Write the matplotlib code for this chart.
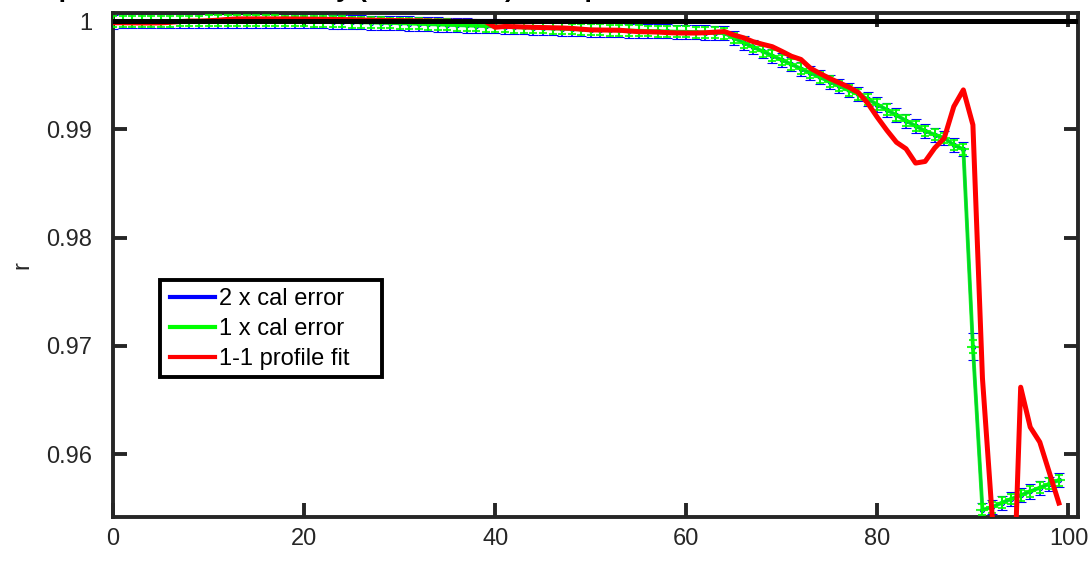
import matplotlib
matplotlib.use("Agg")
import matplotlib.pyplot as plt
from matplotlib.lines import Line2D
from matplotlib.patches import Rectangle

plt.rcParams['font.family'] = ['Liberation Sans', 'DejaVu Sans']

# ---------------- data ----------------
x_vals = list(range(100))

r_1x_cal = [
    0.99995, 0.99996, 0.99997, 0.99997, 0.99998, 0.99998, 0.99999, 1.00000, 1.00000, 1.00001,
    1.00002, 1.00002, 1.00003, 1.00003, 1.00003, 1.00003, 1.00002, 1.00002, 1.00001, 1.00000,
    1.00000, 0.99998, 0.99996, 0.99994, 0.99992, 0.99990, 0.99988, 0.99986, 0.99984, 0.99982,
    0.99980, 0.99977, 0.99974, 0.99971, 0.99968, 0.99965, 0.99962, 0.99959, 0.99956, 0.99953,
    0.99950, 0.99947, 0.99944, 0.99941, 0.99938, 0.99935, 0.99932, 0.99929, 0.99926, 0.99923,
    0.99920, 0.99918, 0.99916, 0.99914, 0.99912, 0.99910, 0.99908, 0.99906, 0.99904, 0.99902,
    0.99900, 0.99897, 0.99894, 0.99891, 0.99888, 0.99843, 0.99800, 0.99760, 0.99720, 0.99680,
    0.99640, 0.99600, 0.99560, 0.99520, 0.99480, 0.99440, 0.99400, 0.99360, 0.99325, 0.99278,
    0.99229, 0.99180, 0.99130, 0.99080, 0.99030, 0.98985, 0.98950, 0.98920, 0.98855, 0.98815,
    0.96990, 0.95485, 0.95510, 0.95550, 0.95585, 0.95620, 0.95655, 0.95690, 0.95725, 0.95760,
]
r_2x_cal = list(r_1x_cal)

# error-bar half widths
err_1x = [0.0005] * 90 + [0.0006] + [0.0005] * 9
err_2x = [0.00065] * 90 + [0.00125] + [0.00065] * 9

r_profile_fit = [
    0.99985, 0.99984, 0.99983, 0.99982, 0.99982, 0.99983, 0.99988, 0.99995, 1.00000, 1.00000,
    1.00003, 1.00008, 1.00015, 1.00020, 1.00020, 1.00020, 1.00020, 1.00020, 1.00020, 1.00019,
    1.00018, 1.00017, 1.00016, 1.00015, 1.00014, 1.00012, 1.00010, 1.00008, 1.00007, 1.00005,
    1.00004, 1.00003, 1.00002, 1.00000, 0.99999, 0.99998, 0.99997, 0.99997, 0.99996, 0.99994,
    0.99942, 0.99950, 0.99948, 0.99945, 0.99942, 0.99940, 0.99938, 0.99936, 0.99932, 0.99925,
    0.99918, 0.99917, 0.99916, 0.99915, 0.99908, 0.99902, 0.99900, 0.99898, 0.99893, 0.99890,
    0.99889, 0.99889, 0.99892, 0.99897, 0.99903, 0.99870, 0.99845, 0.99809, 0.99785, 0.99763,
    0.99720, 0.99675, 0.99645, 0.99564, 0.99515, 0.99470, 0.99430, 0.99390, 0.99340, 0.99240,
    0.99110, 0.98990, 0.98880, 0.98820, 0.98688, 0.98703, 0.98827, 0.98919, 0.99210, 0.99364,
    0.99041, 0.96700, 0.95450, 0.94500, 0.94000, 0.96618, 0.96249, 0.96111, 0.95830, 0.95548,
]

reference_r = 1.0

x_ticks = [0, 20, 40, 60, 80, 100]
y_ticks = [0.96, 0.97, 0.98, 0.99, 1.0]
y_tick_labels = ['0.96', '0.97', '0.98', '0.99', '1']
legend_labels = ['2 x cal error', '1 x cal error', '1-1 profile fit']
title_text = ('Cross-potential correlation by (all stations) multiplicative '
              'correction of the absolute cal ratios')

# ---------------- figure ----------------
fig = plt.figure(figsize=(10.89, 5.61), dpi=100)
ax = fig.add_axes([0.1038, 0.0784, 0.8861, 0.8984])

blue = (0, 0, 1)
green = (0, 1, 0)
red = (1, 0, 0)
dark = '#262626'

ax.errorbar(x_vals, r_2x_cal, yerr=err_2x, color=blue, lw=2.0,
            elinewidth=1.2, capsize=3.5, capthick=1.2, marker='o', ms=3,
            mfc='none', mec=blue, mew=0.8, zorder=2)
ax.errorbar(x_vals, r_1x_cal, yerr=err_1x, color=green, lw=2.8,
            elinewidth=1.4, capsize=3, capthick=1.2, marker='+', ms=9, mew=1.5,
            alpha=0.85, zorder=3)
ax.plot(x_vals, r_profile_fit, color=red, lw=3.6, zorder=4)
ax.axhline(reference_r, color='k', lw=3.6, zorder=5)

ax.set_xlim(0, 101)
ax.set_ylim(0.95419, 1.00074)
ax.set_xticks(x_ticks)
ax.set_yticks(y_ticks)
ax.set_yticklabels(y_tick_labels)

for s in ax.spines.values():
    s.set_linewidth(2.8)
    s.set_color(dark)
ax.tick_params(direction='in', length=10, width=2.8, color=dark, labelcolor=dark,
               labelsize=17, top=True, right=True)
ax.tick_params(axis='y', pad=15)
ax.tick_params(axis='x', pad=8)

ax.set_ylabel('r', fontsize=17, color=dark)
ax.yaxis.set_label_coords(-0.083, 0.5)

# legend box (MATLAB style, with extra room on the right)
ax.add_patch(Rectangle((0.0487, 0.2778), 0.2301, 0.1924, transform=ax.transAxes,
                       facecolor='white', edgecolor='k', lw=2.8, zorder=9))
handles = [Line2D([], [], color=blue, lw=3),
           Line2D([], [], color=green, lw=3),
           Line2D([], [], color=red, lw=3)]
leg = ax.legend(handles, legend_labels, loc='upper left', bbox_to_anchor=(0.0591, 0.4540),
                fontsize=17, frameon=False, handlelength=1.9,
                handletextpad=0.17, labelspacing=0.34, borderpad=0, borderaxespad=0)
leg.set_zorder(10)

fig.text(-0.023, 1.005, title_text, ha='left', va='baseline', fontsize=19,
         fontweight='bold', color='k')

fig.savefig('out.png', dpi=100)
